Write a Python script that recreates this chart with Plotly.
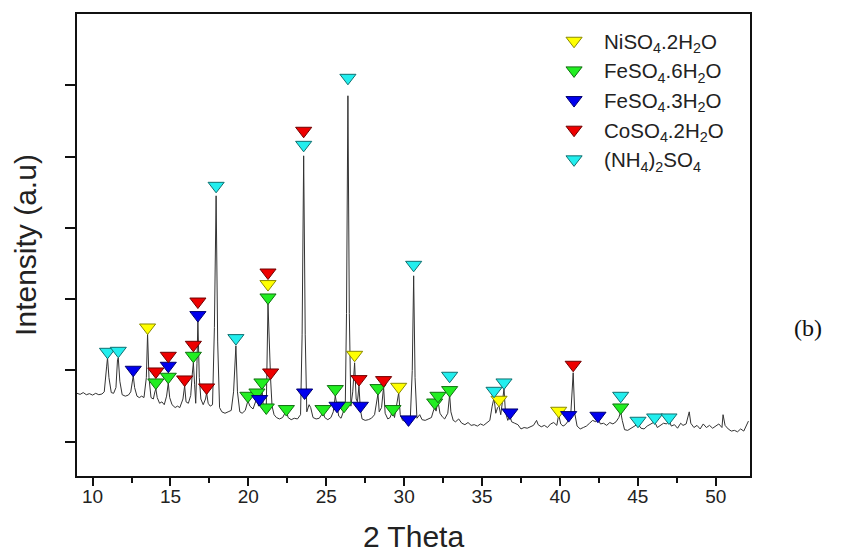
import plotly.graph_objects as go

# ---- XRD trace (2 theta, intensity a.u.) ----
two_theta = [9.00, 9.20, 9.40, 9.60, 9.80, 10.00, 10.20, 10.40, 10.60, 10.75, 10.90, 10.96, 11.05, 11.20, 11.35,
             11.50, 11.60, 11.65, 11.75, 11.90, 12.10, 12.30, 12.45, 12.55, 12.61, 12.70, 12.85, 13.00, 13.15,
             13.30, 13.45, 13.53, 13.62, 13.75, 13.90, 14.00, 14.06, 14.15, 14.30, 14.45, 14.60, 14.75, 14.86,
             14.95, 15.10, 15.30, 15.45, 15.60, 15.80, 15.91, 16.00, 16.15, 16.30, 16.40, 16.47, 16.55, 16.62,
             16.70, 16.76, 16.85, 16.95, 17.10, 17.25, 17.32, 17.42, 17.55, 17.70, 17.82, 17.93, 18.03, 18.15,
             18.30, 18.50, 18.70, 18.90, 19.05, 19.20, 19.30, 19.45, 19.60, 19.80, 19.97, 20.10, 20.30, 20.45,
             20.55, 20.65, 20.72, 20.80, 20.87, 20.95, 21.05, 21.15, 21.26, 21.35, 21.43, 21.52, 21.65, 21.80,
             22.00, 22.20, 22.35, 22.44, 22.55, 22.75, 22.95, 23.15, 23.35, 23.45, 23.55, 23.65, 23.75, 23.90,
             24.00, 24.15, 24.35, 24.55, 24.70, 24.79, 24.90, 25.10, 25.30, 25.45, 25.58, 25.69, 25.80, 25.95,
             26.05, 26.14, 26.22, 26.30, 26.39, 26.48, 26.58, 26.70, 26.82, 26.92, 27.00, 27.10, 27.19, 27.30,
             27.50, 27.70, 27.90, 28.10, 28.20, 28.32, 28.40, 28.55, 28.68, 28.78, 28.95, 29.10, 29.20, 29.28,
             29.38, 29.50, 29.65, 29.75, 29.90, 30.05, 30.24, 30.40, 30.52, 30.61, 30.70, 30.82, 31.00, 31.15,
             31.35, 31.55, 31.75, 31.90, 31.96, 32.05, 32.17, 32.30, 32.45, 32.60, 32.80, 32.92, 33.00, 33.15,
             33.30, 33.50, 33.70, 33.90, 34.10, 34.30, 34.50, 34.70, 34.90, 35.10, 35.30, 35.50, 35.65, 35.77,
             35.88, 36.00, 36.09, 36.20, 36.30, 36.41, 36.50, 36.65, 36.79, 36.90, 37.10, 37.30, 37.50, 37.70,
             37.90, 38.10, 38.30, 38.50, 38.60, 38.80, 39.00, 39.20, 39.40, 39.60, 39.80, 39.92, 40.05, 40.20,
             40.35, 40.56, 40.70, 40.85, 40.95, 41.10, 41.30, 41.50, 41.70, 41.90, 42.10, 42.30, 42.44, 42.60,
             42.80, 43.00, 43.20, 43.40, 43.60, 43.78, 43.90, 44.00, 44.15, 44.35, 44.55, 44.75, 45.01, 45.20,
             45.40, 45.60, 45.80, 46.08, 46.25, 46.45, 46.65, 46.85, 47.00, 47.15, 47.35, 47.55, 47.75, 47.90,
             48.10, 48.30, 48.40, 48.60, 48.80, 49.00, 49.20, 49.40, 49.60, 49.80, 50.00, 50.20, 50.40, 50.47,
             50.60, 50.80, 51.00, 51.20, 51.40, 51.60, 51.80, 51.95, 52.10]
intensity = [680, 665, 690, 660, 675, 655, 680, 660, 670, 700, 1050, 1178, 900, 690, 680,
             760, 1150, 1178, 850, 660, 640, 655, 700, 880, 926, 760, 640, 620, 640,
             620, 900, 1515, 900, 620, 600, 700, 743, 620, 540, 560, 520, 640, 827,
             620, 520, 480, 500, 480, 600, 785, 560, 540, 650, 950, 1108, 800, 540,
             1100, 1697, 900, 600, 520, 600, 687, 540, 500, 520, 1600, 3450, 1400, 480,
             420, 400, 420, 440, 700, 1346, 700, 420, 400, 440, 575, 500, 460, 540,
             617, 500, 560, 600, 757, 520, 430, 480, 1935, 1200, 870, 500, 380, 340,
             320, 340, 400, 440, 340, 310, 330, 320, 380, 1500, 4011, 1500, 420, 520,
             480, 340, 320, 330, 380, 430, 340, 310, 340, 420, 645, 480, 360, 330,
             400, 450, 500, 1800, 4853, 1800, 500, 700, 1108, 600, 560, 780, 450, 320,
             300, 310, 330, 380, 550, 673, 420, 480, 771, 400, 320, 340, 400, 430,
             340, 480, 687, 380, 300, 290, 330, 350, 1000, 2328, 900, 330, 380, 310,
             300, 320, 340, 450, 477, 430, 575, 400, 350, 320, 400, 659, 420, 300,
             280, 320, 260, 240, 270, 230, 240, 220, 250, 230, 260, 300, 500, 617,
             400, 480, 500, 380, 550, 743, 420, 300, 360, 280, 260, 240, 180, 200,
             190, 210, 230, 300, 240, 210, 230, 200, 250, 270, 230, 380, 250, 220,
             240, 300, 400, 968, 400, 220, 180, 200, 220, 260, 300, 280, 320, 250,
             260, 230, 270, 250, 280, 340, 421, 300, 170, 160, 190, 210, 250, 190,
             180, 220, 250, 280, 200, 230, 260, 250, 300, 220, 240, 190, 260, 230,
             250, 420, 260, 200, 230, 180, 250, 200, 230, 190, 220, 250, 200, 380,
             230, 180, 150, 160, 140, 180, 150, 220, 290]

# ---- phase markers (2 theta, marker height) ----
ni_x = [13.53, 21.26, 26.82, 29.65, 36.09, 39.92]
ni_y = [1603, 2212, 1220, 771, 589, 435]

fe6_x = [14.06, 14.86, 16.47, 21.26, 20.87, 19.97, 20.55, 21.15, 22.44, 24.79, 25.58, 26.14,
         28.32, 29.28, 31.96, 32.17, 32.92, 43.90]
fe6_y = [832, 912, 1206, 2024, 832, 645, 691, 481, 459, 459, 739, 505,
         753, 459, 551, 645, 725, 481]

fe3_x = [12.61, 14.86, 16.76, 20.72, 23.61, 25.69, 27.19, 30.28, 36.79, 40.56, 42.44]
fe3_y = [1010, 1066, 1777, 599, 691, 505, 505, 314, 411, 374, 365]

co_x = [14.06, 14.86, 15.91, 16.47, 16.76, 17.32, 21.26, 21.43, 23.55, 27.10, 28.68, 40.85]
co_y = [986, 1206, 874, 1360, 1967, 762, 2374, 972, 4362, 879, 865, 1080]

nh4_x = [10.96, 11.65, 17.93, 19.20, 23.55, 26.39, 30.61, 32.92, 35.77, 36.41, 43.90, 45.01, 46.08, 47.00]
nh4_y = [1262, 1276, 3590, 1454, 4165, 5105, 2482, 926, 715, 832, 645, 295, 341, 341]

phases = [
    ("NiSO<sub>4</sub>.2H<sub>2</sub>O", ni_x, ni_y, "#FFFF00", "#8A8A00"),
    ("FeSO<sub>4</sub>.6H<sub>2</sub>O", fe6_x, fe6_y, "#22EE22", "#107010"),
    ("FeSO<sub>4</sub>.3H<sub>2</sub>O", fe3_x, fe3_y, "#0000EE", "#000070"),
    ("CoSO<sub>4</sub>.2H<sub>2</sub>O", co_x, co_y, "#EE0000", "#700000"),
    ("(NH<sub>4</sub>)<sub>2</sub>SO<sub>4</sub>", nh4_x, nh4_y, "#22EEEE", "#107070"),
]

x_ticks = [10, 15, 20, 25, 30, 35, 40, 45, 50]
y_ticks = [0, 1000, 2000, 3000, 4000, 5000]

FONT = "Arial, Liberation Sans, sans-serif"

fig = go.Figure()
fig.add_trace(go.Scatter(x=two_theta, y=intensity, mode="lines",
                         line=dict(color="#333333", width=1), showlegend=False,
                         hoverinfo="skip"))
for name, xs, ys, fc, ec in phases:
    fig.add_trace(go.Scatter(x=xs, y=ys, mode="markers", name=name,
                             marker=dict(symbol="triangle-down", size=14, color=fc,
                                         line=dict(color=ec, width=1))))

fig.update_layout(
    width=861, height=554,
    margin=dict(l=77, r=111, t=14, b=78, autoexpand=False),
    paper_bgcolor="white", plot_bgcolor="white",
    font=dict(family=FONT, color="#111111"),
    legend=dict(x=0.694, y=0.985, xanchor="left", yanchor="top",
                font=dict(size=20.5, family=FONT, color="#222222"),
                bgcolor="rgba(0,0,0,0)", borderwidth=0, itemwidth=50,
                tracegroupgap=0),
    annotations=[dict(text="(b)", x=1.086, y=0.32, xref="paper", yref="paper",
                      showarrow=False, xanchor="center", yanchor="middle",
                      font=dict(family="Liberation Serif, Times New Roman, serif", size=24, color="#111111"))],
)
fig.update_xaxes(range=[9.0, 52.2], tickvals=x_ticks, ticks="outside", ticklen=8, tickwidth=1.5,
                 tickcolor="#111111", showline=True, linecolor="#111111", linewidth=1.5,
                 mirror=True, showgrid=False, zeroline=False, automargin=False,
                 ticklabelstandoff=-6,
                 tickfont=dict(size=19, family=FONT, color="#222222"),
                 minor=dict(tickvals=[12.5, 17.5, 22.5, 27.5, 32.5, 37.5, 42.5, 47.5],
                            ticks="outside", ticklen=5, tickwidth=1.5, tickcolor="#111111"),
                 title=dict(text="2 Theta", font=dict(size=30, family=FONT, color="#222222"), standoff=20))
fig.update_yaxes(range=[-480, 6000], tickvals=y_ticks, ticks="outside", ticklen=10, tickwidth=1.5,
                 tickcolor="#111111", showticklabels=False, showline=True, linecolor="#111111",
                 linewidth=1.5, mirror=True, showgrid=False, zeroline=False, automargin=False,
                 title=dict(text="Intensity (a.u)", font=dict(size=30, family=FONT, color="#222222"), standoff=20))

fig.write_html("out.html")
